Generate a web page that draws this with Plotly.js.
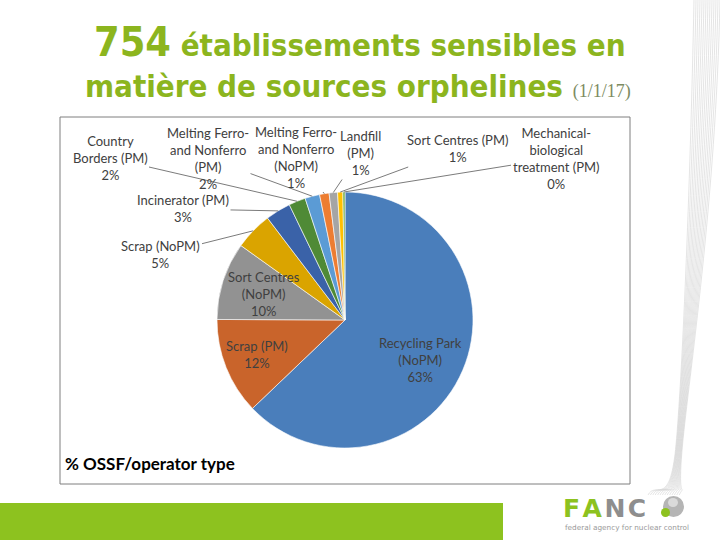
<!DOCTYPE html>
<html>
<head>
<meta charset="utf-8">
<script src="https://cdn.plot.ly/plotly-3.0.1.min.js"></script>
<style>html,body{margin:0;padding:0;background:#fff;}#chart{width:720px;height:540px;}</style>
</head>
<body>
<div id="chart"></div>
<script>
// ---- data ----
const categories = ['Recycling Park (NoPM)', 'Scrap (PM)', 'Sort Centres (NoPM)', 'Scrap (NoPM)', 'Incinerator (PM)', 'Country Borders (PM)', 'Melting Ferro- and Nonferro (PM)', 'Melting Ferro- and Nonferro (NoPM)', 'Landfill (PM)', 'Sort Centres (PM)', 'Mechanical-biological treatment (PM)'];
const counts = [474, 92, 74, 36, 24, 16, 14, 9, 8, 5, 2];
const labelText = ['Recycling Park<br>(NoPM)', 'Scrap (PM)', 'Sort Centres<br>(NoPM)', 'Scrap (NoPM)', 'Incinerator (PM)', 'Country<br>Borders (PM)', 'Melting Ferro-<br>and Nonferro<br>(PM)', 'Melting Ferro-<br>and Nonferro<br>(NoPM)', 'Landfill<br>(PM)', 'Sort Centres (PM)', 'Mechanical-<br>biological<br>treatment (PM)'];
const titleLine1 = '754';
const titleLine1b = ' établissements sensibles en';
const titleLine2 = 'matière de sources orphelines';
const titleDate = '(1/1/17)';
const chartTitle = '% OSSF/operator type';

// ---- styles / layout ----
const colors = ['#4A7EBB', '#C9642B', '#929292', '#DAA400', '#3A62A8', '#4F8A36', '#5B9BD5', '#ED7D31', '#A5A5A5', '#FFC000', '#70AD47'];
const inside = [true, true, true, false, false, false, false, false, false, false, false];
const labelPos = [[420, 360], [257, 354], [264, 294], [161, 254], [183, 209], [110, 158], [208, 158], [296, 157], [360, 153], [457, 149], [556, 158]];
const W = 720, H = 540;
const cx = 345, cy = 320, R = 128;
const px = x => x / W;
const py = y => 1 - y / H;

const total = counts.reduce((a, b) => a + b, 0);
const lblFont = {family: 'Lato, Calibri, sans-serif', size: 13, color: '#404040'};

const annotations = [];
let cum = 0;
counts.forEach((v, i) => {
  const pct = Math.round(100 * v / total) + '%';
  const text = labelText[i] + '<br>' + pct;
  const mid = (cum + v / 2) / total * 2 * Math.PI;
  cum += v;
  const [lx, ly] = labelPos[i];
  if (inside[i]) {
    annotations.push({xref: 'paper', yref: 'paper', x: px(lx), y: py(ly), xanchor: 'center', yanchor: 'middle',
      text: text, showarrow: false, font: lblFont, align: 'center'});
  } else {
    const ex = cx + R * Math.sin(mid), ey = cy - R * Math.cos(mid);
    annotations.push({xref: 'paper', yref: 'paper', x: px(ex), y: py(ey), ax: lx - ex, ay: ly - ey,
      axref: 'pixel', ayref: 'pixel', showarrow: true, arrowhead: 0, arrowwidth: 0.8, arrowcolor: '#595959',
      standoff: 0, startstandoff: 0, text: text, font: lblFont, align: 'center'});
  }
});

const green = '#8CB51E';
const titleFont = {family: 'DejaVu Sans Condensed, DejaVu Sans, sans-serif', size: 31, color: green, weight: 'bold'};
annotations.push({xref: 'paper', yref: 'paper', x: px(360), y: py(42), xanchor: 'center', yanchor: 'middle', showarrow: false,
  text: "<span style='font-size:41px'>" + titleLine1 + "</span>" + titleLine1b, font: titleFont});
annotations.push({xref: 'paper', yref: 'paper', x: px(358), y: py(86), xanchor: 'center', yanchor: 'middle', showarrow: false,
  text: titleLine2 + " <span style='font-family:Liberation Serif;font-size:18px;font-weight:normal;color:#7D8B62'>" + titleDate + "</span>",
  font: titleFont});
annotations.push({xref: 'paper', yref: 'paper', x: px(63), y: py(463), xanchor: 'left', yanchor: 'middle', showarrow: false,
  text: chartTitle, font: {family: 'Lato, Calibri, sans-serif', size: 17, color: '#000', weight: 'bold'}});
// logo
annotations.push({xref: 'paper', yref: 'paper', x: px(561), y: py(509), xanchor: 'left', yanchor: 'middle', showarrow: false,
  text: "<span style='color:#8DC21F'>F\u200AA\u200A</span><span style='color:#8E8E8E'>N\u200AC</span>",
  font: {family: 'DejaVu Sans, sans-serif', size: 25, weight: 'bold'}});
annotations.push({xref: 'paper', yref: 'paper', x: px(563), y: py(527), xanchor: 'left', yanchor: 'middle', showarrow: false,
  text: 'federal agency for nuclear control', font: {family: 'DejaVu Sans, sans-serif', size: 7.3, color: '#9A9A9A'}});

const shapes = [];
// chart frame
shapes.push({type: 'rect', xref: 'paper', yref: 'paper', x0: px(60), x1: px(630), y0: py(484), y1: py(117),
  line: {color: '#7F7F7F', width: 1}, fillcolor: '#FFFFFF', layer: 'below'});
// green bar
shapes.push({type: 'rect', xref: 'paper', yref: 'paper', x0: 0, x1: px(503), y0: 0, y1: py(503),
  line: {width: 0}, fillcolor: '#8DC21F', layer: 'below'});
// logo sphere
shapes.push({type: 'circle', xref: 'paper', yref: 'paper', x0: px(663), x1: px(684), y0: py(517), y1: py(496),
  line: {width: 0}, fillcolor: '#B5B5B5'});
shapes.push({type: 'circle', xref: 'paper', yref: 'paper', x0: px(668), x1: px(678), y0: py(507), y1: py(498),
  line: {width: 0}, fillcolor: '#DADADA'});
shapes.push({type: 'circle', xref: 'paper', yref: 'paper', x0: px(661), x1: px(670), y0: py(517), y1: py(508),
  line: {width: 0}, fillcolor: '#8DC21F'});
// decorative curves on the right
for (let i = 0; i < 14; i++) {
  const x0 = 694 + i * 2, x1 = 676 + i * 0.5, x2 = 648 + i * 2.4;
  const p = (x, y) => px(x).toFixed(5) + ',' + py(y).toFixed(5);
  const path = 'M' + p(x0, 0) + ' C' + p(x0 - 4, 200) + ' ' + p(x1 + 6, 380) + ' ' + p(x1, 445) +
    ' S' + p(x2 + 8, 480) + ' ' + p(x2, 495);
  shapes.push({type: 'path', xref: 'paper', yref: 'paper', path: path, line: {color: '#D4D4D4', width: 0.6}, layer: 'below'});
}

const trace = {
  type: 'pie',
  labels: categories,
  values: counts,
  sort: false,
  direction: 'clockwise',
  rotation: 0,
  textinfo: 'none',
  hoverinfo: 'label+percent',
  marker: {colors: colors, line: {color: '#FFFFFF', width: 0.6}},
  domain: {x: [px(cx - R), px(cx + R)], y: [py(cy + R), py(cy - R)]},
  showlegend: false
};

const layout = {
  width: W, height: H,
  margin: {l: 0, r: 0, t: 0, b: 0},
  paper_bgcolor: '#FFFFFF',
  showlegend: false,
  annotations: annotations,
  shapes: shapes
};

Plotly.newPlot('chart', [trace], layout, {displayModeBar: false, staticPlot: true});
</script>
</body>
</html>
